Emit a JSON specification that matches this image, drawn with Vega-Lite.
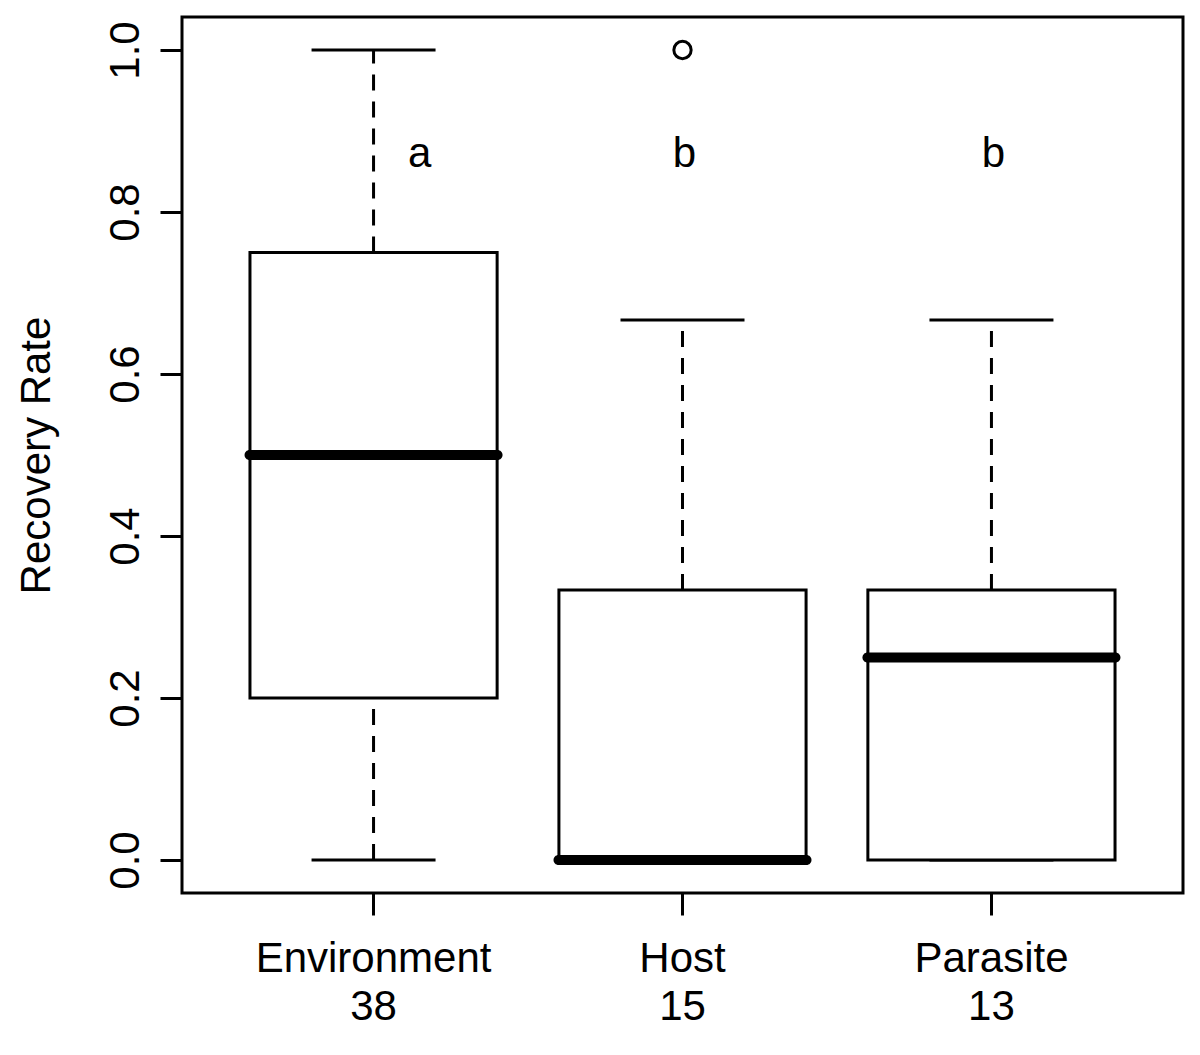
{
  "$schema": "https://vega.github.io/schema/vega-lite/v6.json",
  "autosize": {"type": "none"},
  "padding": {"left": 182, "top": 17, "right": 17, "bottom": 162},
  "width": 1001,
  "height": 876,
  "background": "white",
  "config": {
    "view": {"stroke": "black", "strokeWidth": 3},
    "font": "Liberation Sans",
    "axis": {
      "labelFont": "Liberation Sans",
      "titleFont": "Liberation Sans",
      "labelColor": "black",
      "titleColor": "black",
      "tickColor": "black",
      "grid": false,
      "domain": false
    }
  },
  "datasets": {
    "boxes": [
      {"group": "Environment", "n": 38, "lo": 0, "q1": 0.2, "med": 0.5, "q3": 0.75, "hi": 1.0, "letter": "a"},
      {"group": "Host", "n": 15, "lo": 0, "q1": 0, "med": 0, "q3": 0.3333, "hi": 0.6667, "letter": "b"},
      {"group": "Parasite", "n": 13, "lo": 0, "q1": 0, "med": 0.25, "q3": 0.3333, "hi": 0.6667, "letter": "b"}
    ],
    "outliers": [
      {"group": "Host", "value": 1.0}
    ]
  },
  "data": {"name": "boxes"},
  "encoding": {
    "x": {
      "field": "group",
      "type": "nominal",
      "sort": null,
      "scale": {"paddingInner": 0.2, "paddingOuter": 0.22},
      "axis": {
        "title": null,
        "labelAngle": 0,
        "labelFontSize": 42,
        "labelLineHeight": 48,
        "labelBaseline": "top",
        "labelPadding": 23,
        "labelLimit": 0,
        "tickSize": 22,
        "tickWidth": 3,
        "labelExpr": "[datum.value, datum.value == 'Environment' ? '38' : datum.value == 'Host' ? '15' : '13']"
      }
    }
  },
  "layer": [
    {
      "mark": {"type": "rule", "stroke": "black", "strokeWidth": 3, "strokeDash": [16, 11]},
      "encoding": {
        "y": {
          "field": "lo",
          "type": "quantitative",
          "scale": {"domain": [-0.0407, 1.0407], "nice": false, "zero": false},
          "axis": {
            "title": "Recovery Rate",
            "titleFontSize": 42,
            "titleFontWeight": "normal",
            "titlePadding": 46,
            "values": [0, 0.2, 0.4, 0.6, 0.8, 1.0],
            "format": ".1f",
            "labelAngle": 270,
            "labelAlign": "center",
            "labelBaseline": "alphabetic",
            "labelFontSize": 42,
            "labelPadding": 22,
            "tickSize": 22,
            "tickWidth": 3
          }
        },
        "y2": {"field": "q1"}
      }
    },
    {
      "mark": {"type": "rule", "stroke": "black", "strokeWidth": 3, "strokeDash": [16, 11]},
      "encoding": {
        "y": {"field": "q3", "type": "quantitative"},
        "y2": {"field": "hi"}
      }
    },
    {
      "mark": {"type": "tick", "color": "black", "opacity": 1, "size": 124, "thickness": 3, "orient": "horizontal"},
      "encoding": {"y": {"field": "lo", "type": "quantitative"}}
    },
    {
      "mark": {"type": "tick", "color": "black", "opacity": 1, "size": 124, "thickness": 3, "orient": "horizontal"},
      "encoding": {"y": {"field": "hi", "type": "quantitative"}}
    },
    {
      "mark": {"type": "bar", "fill": "white", "stroke": "black", "strokeWidth": 3, "opacity": 1},
      "encoding": {
        "y": {"field": "q1", "type": "quantitative"},
        "y2": {"field": "q3"}
      }
    },
    {
      "mark": {"type": "tick", "color": "black", "opacity": 1, "size": 258, "thickness": 10, "cornerRadius": 5, "orient": "horizontal"},
      "encoding": {"y": {"field": "med", "type": "quantitative"}}
    },
    {
      "data": {"name": "outliers"},
      "mark": {"type": "point", "shape": "circle", "filled": false, "stroke": "black", "strokeWidth": 3, "size": 300, "opacity": 1},
      "encoding": {"y": {"field": "value", "type": "quantitative"}}
    },
    {
      "transform": [{"filter": "datum.group == 'Environment'"}],
      "mark": {"type": "text", "fontSize": 42, "color": "black", "baseline": "alphabetic", "align": "center", "dx": 46},
      "encoding": {
        "y": {"datum": 0.856, "type": "quantitative"},
        "text": {"field": "letter"}
      }
    },
    {
      "transform": [{"filter": "datum.group != 'Environment'"}],
      "mark": {"type": "text", "fontSize": 42, "color": "black", "baseline": "alphabetic", "align": "center", "dx": 2},
      "encoding": {
        "y": {"datum": 0.856, "type": "quantitative"},
        "text": {"field": "letter"}
      }
    }
  ]
}
